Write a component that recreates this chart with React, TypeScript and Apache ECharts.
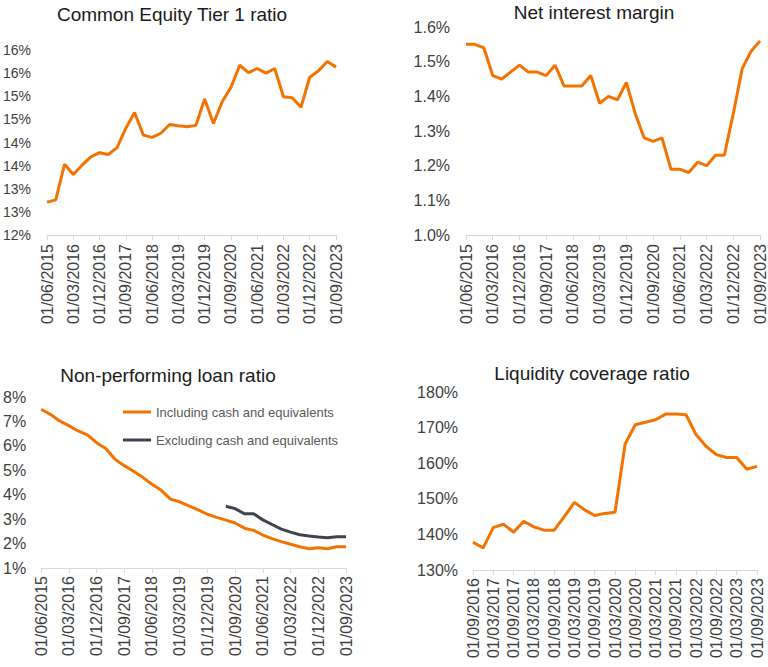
import React, { useEffect, useRef } from "react";
import * as echarts from "echarts";

const quarters: string[] = [
  "01/06/2015", "01/09/2015", "01/12/2015",
  "01/03/2016", "01/06/2016", "01/09/2016", "01/12/2016",
  "01/03/2017", "01/06/2017", "01/09/2017", "01/12/2017",
  "01/03/2018", "01/06/2018", "01/09/2018", "01/12/2018",
  "01/03/2019", "01/06/2019", "01/09/2019", "01/12/2019",
  "01/03/2020", "01/06/2020", "01/09/2020", "01/12/2020",
  "01/03/2021", "01/06/2021", "01/09/2021", "01/12/2021",
  "01/03/2022", "01/06/2022", "01/09/2022", "01/12/2022",
  "01/03/2023", "01/06/2023", "01/09/2023",
];
const lcrQuarters: string[] = [
  "01/09/2016", "01/12/2016",
  "01/03/2017", "01/06/2017", "01/09/2017", "01/12/2017",
  "01/03/2018", "01/06/2018", "01/09/2018", "01/12/2018",
  "01/03/2019", "01/06/2019", "01/09/2019", "01/12/2019",
  "01/03/2020", "01/06/2020", "01/09/2020", "01/12/2020",
  "01/03/2021", "01/06/2021", "01/09/2021", "01/12/2021",
  "01/03/2022", "01/06/2022", "01/09/2022", "01/12/2022",
  "01/03/2023", "01/06/2023", "01/09/2023",
];

const cet1: number[] = [
  12.71, 12.76, 13.53, 13.31, 13.51, 13.69, 13.78, 13.74, 13.89, 14.31,
  14.65, 14.16, 14.11, 14.2, 14.39, 14.36, 14.34, 14.37, 14.94, 14.41,
  14.88, 15.19, 15.67, 15.51, 15.6, 15.5, 15.6, 14.99, 14.97, 14.76,
  15.41, 15.55, 15.75, 15.63,
];
const nim: number[] = [
  1.55, 1.55, 1.54, 1.46, 1.45, 1.47, 1.49, 1.47, 1.47, 1.46,
  1.49, 1.43, 1.43, 1.43, 1.46, 1.38, 1.4, 1.39, 1.44, 1.35,
  1.28, 1.27, 1.28, 1.19, 1.19, 1.18, 1.21, 1.2, 1.23, 1.23,
  1.35, 1.48, 1.53, 1.56,
];
const nplIncl: number[] = [
  7.5, 7.29, 7.02, 6.83, 6.61, 6.45, 6.13, 5.89, 5.45, 5.19,
  4.96, 4.71, 4.43, 4.18, 3.82, 3.71, 3.54, 3.38, 3.2, 3.07,
  2.96, 2.84, 2.63, 2.54, 2.35, 2.2, 2.08, 1.97, 1.87, 1.79,
  1.83, 1.79, 1.87, 1.87,
];
const nplExcl: (number | null)[] = [
  null, null, null, null, null, null, null, null, null, null,
  null, null, null, null, null, null, null, null, null, null,
  3.53, 3.43, 3.22, 3.22, 2.97, 2.78, 2.59, 2.47, 2.36, 2.31,
  2.27, 2.24, 2.28, 2.28,
];
const lcr: number[] = [
  137.8, 136.2, 141.9, 142.9, 140.6, 143.7, 142.1, 141.2, 141.2, 145.0,
  149.0, 146.9, 145.3, 145.9, 146.2, 165.4, 170.8, 171.5, 172.2, 173.8,
  173.8, 173.6, 168.0, 164.7, 162.4, 161.6, 161.6, 158.3, 159.1,
];

const titles: string[] = [
  "Common Equity Tier 1 ratio",
  "Net interest margin",
  "Non-performing loan ratio",
  "Liquidity coverage ratio",
];
const legendNames: string[] = [
  "Including cash and equivalents",
  "Excluding cash and equivalents",
];

const ORANGE = "#F47300";
const DARK = "#40434E";
const FONT = "'Liberation Sans', Arial, sans-serif";
const LABEL = "#404040";
const AXIS = "#D9D9D9";

export default function App() {
  const ref = useRef<HTMLDivElement>(null);
  useEffect(() => {
    if (!ref.current) return;
    const chart = echarts.init(ref.current, undefined, { renderer: "svg" });

    const xAxis = (gridIndex: number, data: string[], interval: number, margin: number) => ({
      type: "category",
      gridIndex,
      data,
      boundaryGap: false,
      axisLine: { show: true, lineStyle: { color: AXIS, width: 1 } },
      axisTick: { show: true, interval, length: 5, lineStyle: { color: AXIS } },
      axisLabel: {
        interval,
        rotate: 90,
        fontSize: 16,
        color: LABEL,
        fontFamily: FONT,
        margin,
      },
      splitLine: { show: false },
    });
    const yAxis = (gridIndex: number, min: number, max: number, interval: number, fmt: (v: number) => string, fontSize: number, margin: number) => ({
      type: "value",
      gridIndex,
      min,
      max,
      interval,
      axisLine: { show: false },
      axisTick: { show: false },
      splitLine: { show: false },
      axisLabel: { formatter: fmt, fontSize, color: LABEL, fontFamily: FONT, margin },
    });
    const line = (name: string, xi: number, data: (number | null)[], color: string) => ({
      type: "line",
      name,
      xAxisIndex: xi,
      yAxisIndex: xi,
      data,
      symbol: "none",
      showSymbol: false,
      connectNulls: false,
      lineStyle: { color, width: 3 },
      itemStyle: { color },
    });
    const titleText = (text: string, x: number, y: number) => ({
      type: "text",
      x,
      y,
      style: {
        text,
        fill: "#1A1A1A",
        font: `19px ${FONT}`,
        align: "center",
        verticalAlign: "middle",
      },
    });

    chart.setOption({
      animation: false,
      grid: [
        { left: 47, top: 50, width: 289, height: 185 },
        { left: 466, top: 27, width: 295, height: 208 },
        { left: 38, top: 397, width: 308, height: 171 },
        { left: 473, top: 392, width: 284, height: 178 },
      ],
      xAxis: [
        xAxis(0, quarters, 2, 9),
        xAxis(1, quarters, 2, 9),
        xAxis(2, quarters, 2, 8),
        xAxis(3, lcrQuarters, 1, 8),
      ],
      yAxis: [
        yAxis(0, 12, 16, 0.5, (v: number) => Math.round(v) + "%", 14, 16),
        yAxis(1, 1.0, 1.6, 0.1, (v: number) => v.toFixed(1) + "%", 16, 16),
        yAxis(2, 1, 8, 1, (v: number) => v + "%", 16, 15),
        yAxis(3, 130, 180, 10, (v: number) => v + "%", 16, 15),
      ],
      legend: {
        data: legendNames,
        orient: "vertical",
        left: 118,
        top: 399,
        icon: "rect",
        itemWidth: 28,
        itemHeight: 3,
        itemGap: 12,
        textStyle: { color: "#595959", fontSize: 13, fontFamily: FONT, lineHeight: 16 },
      },
      series: [
        line("Common Equity Tier 1 ratio", 0, cet1, ORANGE),
        line("Net interest margin", 1, nim, ORANGE),
        line(legendNames[0], 2, nplIncl, ORANGE),
        line(legendNames[1], 2, nplExcl, DARK),
        line("Liquidity coverage ratio", 3, lcr, ORANGE),
      ],
      graphic: [
        titleText(titles[0], 172, 14),
        titleText(titles[1], 594, 12),
        titleText(titles[2], 168, 375),
        titleText(titles[3], 592, 373),
      ],
    });
    return () => chart.dispose();
  }, []);
  return (
    <div
      ref={ref}
      style={{ position: "fixed", left: 0, top: 0, width: 768, height: 667, background: "#fff" }}
    />
  );
}
